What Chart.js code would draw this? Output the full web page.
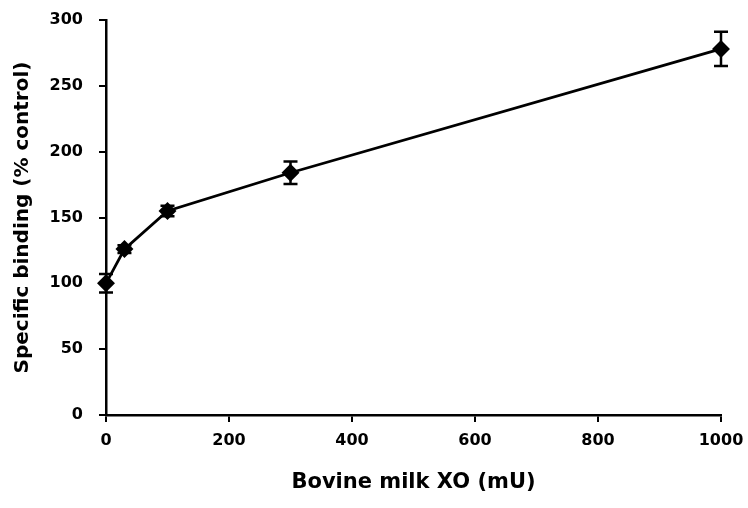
<!DOCTYPE html>
<html><head><meta charset="utf-8">
<script src="https://cdn.jsdelivr.net/npm/chart.js@4.4.1/dist/chart.umd.min.js"></script>
<style>html,body{margin:0;padding:0;background:#fff;}#wrap{width:748px;height:508px;}</style>
</head><body><div id="wrap"><canvas id="c" width="748" height="508"></canvas></div>
<script>
const doses = [0, 30, 100, 300, 1000];
const binding = [100, 126, 155, 184, 278];
const errors = [7, 3, 4, 8.5, 13];
const xTicks = [0, 200, 400, 600, 800, 1000];
const yTicks = [0, 50, 100, 150, 200, 250, 300];
const xTitle = 'Bovine milk XO (mU)';
const yTitle = 'Specific binding (% control)';

const errorBars = {
  id: 'errorBars',
  afterDatasetsDraw(chart) {
    const ctx = chart.ctx, xs = chart.scales.x, ys = chart.scales.y;
    ctx.save();
    ctx.strokeStyle = '#000';
    ctx.lineWidth = 2.5;
    doses.forEach((d, i) => {
      const px = xs.getPixelForValue(d);
      const top = ys.getPixelForValue(binding[i] + errors[i]);
      const bot = ys.getPixelForValue(binding[i] - errors[i]);
      ctx.beginPath();
      ctx.moveTo(px, top); ctx.lineTo(px, bot);
      ctx.moveTo(px - 7, top); ctx.lineTo(px + 7, top);
      ctx.moveTo(px - 7, bot); ctx.lineTo(px + 7, bot);
      ctx.stroke();
    });
    ctx.restore();
  }
};

const fam = '"DejaVu Sans", "Liberation Sans", Arial, sans-serif';
const tickFont = {family: fam, size: 16, weight: 'bold'};
const xTitleFont = {family: fam, size: 21, weight: 'bold'};
const yTitleFont = {family: fam, size: 20, weight: 'bold'};

new Chart(document.getElementById('c'), {
  type: 'scatter',
  data: {
    datasets: [{
      data: doses.map((d, i) => ({x: d, y: binding[i]})),
      showLine: true,
      borderColor: '#000',
      backgroundColor: '#000',
      borderWidth: 2.8,
      pointStyle: 'rectRot',
      pointRadius: 7,
      pointHoverRadius: 7,
      clip: false
    }]
  },
  options: {
    responsive: false,
    animation: false,
    layout: {padding: {left: 0, right: 27, top: 20, bottom: 0}},
    plugins: {legend: {display: false}, tooltip: {enabled: false}},
    scales: {
      x: {
        type: 'linear', min: 0, max: 1000,
        afterBuildTicks: s => { s.ticks = xTicks.map(v => ({value: v})); },
        afterFit: s => { s.height = 93; s.paddingLeft = 0; s.paddingRight = 0; },
        grid: {drawOnChartArea: false, tickLength: 7, color: '#000', lineWidth: 2},
        border: {color: '#000', width: 2.5},
        ticks: {color: '#000', font: tickFont, padding: 9, maxRotation: 0, callback: v => String(v)},
        title: {display: true, text: xTitle, color: '#000', font: xTitleFont, padding: {top: 0, bottom: 13}}
      },
      y: {
        type: 'linear', min: 0, max: 300,
        afterBuildTicks: s => { s.ticks = yTicks.map(v => ({value: v})); },
        afterFit: s => { s.width = 106; s.paddingTop = 0; s.paddingBottom = 0; },
        grid: {drawOnChartArea: false, tickLength: 7, color: '#000', lineWidth: 2},
        border: {color: '#000', width: 2.5},
        ticks: {color: '#000', font: tickFont, padding: 16, callback: v => String(v)},
        title: {display: true, text: yTitle, color: '#000', font: yTitleFont, padding: {top: 11, bottom: 0}}
      }
    }
  },
  plugins: [errorBars]
});
</script></body></html>
